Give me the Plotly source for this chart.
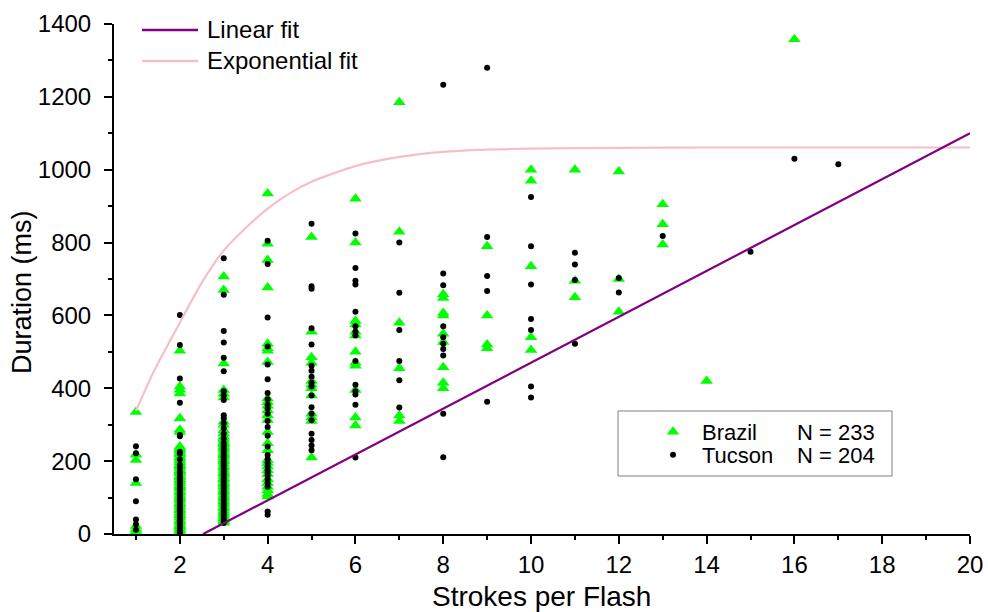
import plotly.graph_objects as go

# ---------------- data ----------------
strokes = [1, 2, 3, 4, 5, 6, 7, 8, 9, 10, 11, 12, 13, 14, 15, 16, 17]

brazil_durations = [
    [335, 218, 203, 140, 22, 14, 8, 3],
    [503, 405, 396, 386, 318, 286, 280, 240, 236, 232, 229, 224, 221, 218, 213, 209, 206, 201,
     196, 191, 188, 186, 181, 175, 172, 170, 166, 160, 158, 155, 150, 147, 144, 139, 134, 131,
     128, 124, 118, 116, 113, 107, 102, 99, 97, 92, 86, 84, 81, 76, 70, 67, 65, 60, 55, 52, 50,
     45, 39, 36, 34, 29, 24, 21, 19, 14, 11, 9, 5, 2],
    [707, 670, 468, 395, 385, 375, 308, 300, 285, 276, 267, 262, 258, 252, 249, 246, 240, 237,
     233, 228, 222, 219, 216, 210, 204, 201, 199, 193, 187, 184, 182, 176, 170, 167, 165, 159,
     153, 151, 148, 142, 139, 136, 131, 125, 120, 117, 114, 108, 103, 100, 97, 92, 89, 86, 81,
     75, 72, 70, 64, 59, 56, 53, 48, 44, 42, 37, 34, 31],
    [935, 797, 752, 677, 522, 510, 503, 472, 372, 362, 352, 340, 326, 313, 280, 249, 230, 203,
     195, 185, 175, 165, 150, 140, 130, 120, 110, 103],
    [815, 555, 485, 470, 420, 410, 400, 380, 330, 320, 310, 210],
    [920, 800, 585, 575, 555, 545, 500, 470, 462, 395, 320, 298],
    [1185, 830, 580, 455, 325, 310],
    [658, 648, 607, 600, 550, 527, 458, 415, 400],
    [790, 600, 520, 510],
    [1000, 970, 735, 540, 505],
    [1000, 695, 650],
    [995, 700, 610],
    [905, 850, 795],
    [420],
    [],
    [1358],
    [],
]

tucson_durations = [
    [241, 222, 150, 90, 40, 27, 12],
    [601, 519, 427, 360, 272, 268, 226, 220, 205, 190, 182, 171, 166, 159, 154, 153, 148, 143,
     138, 133, 127, 124, 122, 118, 112, 107, 101, 96, 93, 91, 86, 80, 75, 71, 66, 63, 61, 56,
     50, 46, 41, 38, 35, 31, 26, 20, 16, 11, 8, 6, 2],
    [757, 657, 557, 526, 484, 447, 392, 380, 368, 326, 318, 304, 290, 275, 262, 250, 243, 237,
     231, 224, 217, 211, 204, 197, 190, 184, 177, 171, 164, 157, 151, 144, 138, 131, 124, 118,
     111, 104, 97, 91, 84, 77, 70, 64, 57, 50, 44, 37, 30],
    [805, 741, 594, 515, 465, 425, 387, 370, 355, 345, 330, 310, 294, 270, 240, 217, 205, 195,
     185, 175, 168, 160, 150, 140, 130, 62, 53],
    [852, 680, 673, 565, 520, 462, 448, 432, 415, 405, 380, 348, 330, 312, 275, 258, 243, 230],
    [825, 730, 695, 685, 610, 570, 555, 545, 475, 410, 392, 383, 355, 210],
    [800, 662, 560, 475, 422, 347],
    [1233, 715, 683, 570, 540, 522, 508, 490, 330, 211],
    [1280, 815, 708, 667, 363],
    [925, 790, 685, 590, 560, 405, 375],
    [772, 740, 697, 522],
    [703, 663],
    [818],
    [],
    [775],
    [1030],
    [1015],
]

# fitted curves
linear_fit_x = [2.53, 20.0]
linear_fit_y = [0, 1100]
exp_fit_x = [1, 1.4, 2, 2.5, 3, 3.5, 4, 4.5, 5, 6, 7, 8, 9, 10, 12, 14, 16, 18, 20]
exp_fit_y = [338, 445, 580, 690, 778, 840, 893, 935, 967, 1010, 1035, 1049, 1055, 1058,
             1060, 1061, 1061, 1061, 1061]

x_tick_vals = [2, 4, 6, 8, 10, 12, 14, 16, 18, 20]
y_tick_vals = [0, 200, 400, 600, 800, 1000, 1200, 1400]

# ---------------- build ----------------
def flatten(xs, groups):
    fx, fy = [], []
    for x, g in zip(xs, groups):
        for v in g:
            fx.append(x)
            fy.append(v)
    return fx, fy

bx, by = flatten(strokes, brazil_durations)
tx, ty = flatten(strokes, tucson_durations)

FONT = "Liberation Sans, Arial, sans-serif"
PURPLE = "#800080"
PINK = "#F4C0C8"

fig = go.Figure()
fig.add_trace(go.Scatter(
    x=bx, y=by, mode="markers", name="Brazil", legend="legend",
    marker=dict(symbol="triangle-up", size=11, color="#00FF00", line=dict(width=0)),
))
fig.add_trace(go.Scatter(
    x=tx, y=ty, mode="markers", name="Tucson", legend="legend2",
    marker=dict(symbol="circle", size=6, color="black", line=dict(width=0)),
))
fig.add_trace(go.Scatter(
    x=exp_fit_x, y=exp_fit_y, mode="lines", name="Exponential fit", showlegend=False,
    line=dict(color=PINK, width=2.2, shape="spline", smoothing=0.7),
))
fig.add_trace(go.Scatter(
    x=linear_fit_x, y=linear_fit_y, mode="lines", name="Linear fit", showlegend=False,
    line=dict(color=PURPLE, width=2.2),
))

L, R, T, B = 114, 18, 24, 78
W, H = 988, 612
PW, PH = W - L - R, H - T - B

def px(xp):
    return (xp - L) / PW

def py(yp):
    return (T + PH - yp) / PH

shapes = [
    dict(type="line", xref="paper", yref="paper", x0=px(142), x1=px(198), y0=py(30), y1=py(30),
         line=dict(color=PURPLE, width=2.5)),
    dict(type="line", xref="paper", yref="paper", x0=px(142), x1=px(198), y0=py(61), y1=py(61),
         line=dict(color=PINK, width=2.5)),
    dict(type="rect", xref="paper", yref="paper", x0=px(618), x1=px(892), y0=py(476), y1=py(411),
         line=dict(color="#808080", width=1), fillcolor="rgba(0,0,0,0)"),
]

annotations = [
    dict(text="Linear fit", x=px(205), y=py(30), xref="paper", yref="paper", xanchor="left",
         yanchor="middle", showarrow=False, font=dict(family=FONT, size=24, color="black")),
    dict(text="Exponential fit", x=px(205), y=py(61), xref="paper", yref="paper", xanchor="left",
         yanchor="middle", showarrow=False, font=dict(family=FONT, size=24, color="black")),
    dict(text="N = 233", x=px(795), y=py(432), xref="paper", yref="paper", xanchor="left",
         yanchor="middle", showarrow=False, font=dict(family=FONT, size=22, color="black")),
    dict(text="N = 204", x=px(795), y=py(455), xref="paper", yref="paper", xanchor="left",
         yanchor="middle", showarrow=False, font=dict(family=FONT, size=22, color="black")),
    dict(text="Duration (ms)", x=px(22), y=py(292), xref="paper", yref="paper", xanchor="center",
         yanchor="middle", textangle=-90, showarrow=False,
         font=dict(family=FONT, size=27, color="black")),
    dict(text="Strokes per Flash", x=px(541), y=py(596), xref="paper", yref="paper",
         xanchor="center", yanchor="middle", showarrow=False,
         font=dict(family=FONT, size=28, color="black")),
]

legend_common = dict(
    xanchor="left", yanchor="middle",
    bgcolor="rgba(0,0,0,0)", borderwidth=0,
    font=dict(family=FONT, size=22, color="black"),
    itemwidth=48,
)

fig.update_layout(
    width=W, height=H,
    margin=dict(l=L, r=R, t=T, b=B, pad=0, autoexpand=False),
    paper_bgcolor="white", plot_bgcolor="white",
    font=dict(family=FONT, size=24, color="black"),
    showlegend=True,
    legend=dict(x=px(644), y=py(432), **legend_common),
    legend2=dict(x=px(644), y=py(455), **legend_common),
    shapes=shapes,
    annotations=annotations,
    xaxis=dict(
        range=[0.5, 20], tickmode="array", tickvals=x_tick_vals, automargin=False,
        ticks="outside", ticklen=8, tickwidth=2, tickcolor="black",
        showline=True, linewidth=2, linecolor="black", showgrid=False, zeroline=False,
        minor=dict(dtick=1, tick0=0, ticks="outside", ticklen=4, tickwidth=1.5,
                   tickcolor="black", showgrid=False),
        tickfont=dict(family=FONT, size=24, color="black"),
    ),
    yaxis=dict(
        range=[0, 1400], tickmode="array", tickvals=y_tick_vals, automargin=False,
        ticks="outside", ticklen=8, tickwidth=2, tickcolor="black",
        showline=True, linewidth=2, linecolor="black", showgrid=False, zeroline=False,
        ticklabelstandoff=8,
        minor=dict(dtick=100, tick0=0, ticks="outside", ticklen=4, tickwidth=1.5,
                   tickcolor="black", showgrid=False),
        tickfont=dict(family=FONT, size=24, color="black"),
    ),
)

fig.write_html("out.html")
